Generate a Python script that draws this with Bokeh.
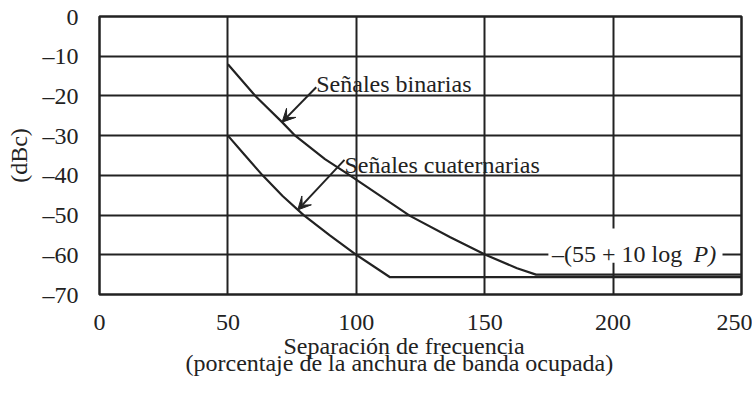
from bokeh.plotting import figure
from bokeh.models import FixedTicker, Range1d, Arrow, VeeHead, Title, ColumnDataSource
from bokeh.core.properties import value
from bokeh.embed import file_html
from bokeh.resources import INLINE

# ---- data ----
x_ticks = [0, 50, 100, 150, 200, 250]
x_labels = ["0", "50", "100", "150", "200", "250"]
y_ticks = [-70, -60, -50, -40, -30, -20, -10, 0]
y_labels = ["–70", "–60", "–50", "–40", "–30", "–20", "–10", "0"]

bin_x = [50, 60.8, 71.1, 76.2, 87.8, 97.5, 120.9, 136.6, 150.3, 162.6, 170, 250]
bin_y = [-12.0, -20.1, -26.6, -30.0, -35.9, -40.0, -50.2, -55.6, -60.0, -63.4, -65.0, -65.0]
quat_x = [50, 56.3, 63.5, 71.3, 79.5, 89.7, 100, 113, 250]
quat_y = [-30, -34.7, -40, -45.2, -50, -55.1, -60, -65.6, -65.6]

ann_text = ["Señales binarias", "Señales cuaternarias"]
ann_x = [84.4, 95.4]
ann_y = [-17.0, -37.3]
arrow_x0 = [84.4, 95.4]
arrow_y0 = [-17.8, -36.1]
arrow_x1 = [71.1, 77.2]
arrow_y1 = [-26.6, -48.7]

box_left, box_right, box_bottom, box_top = [174.8], [242.6], [-62.0], [-53.4]
formula_x, formula_y = [176.2], [-59.8]
formula_text = ["–(55 + 10 log"]
p_x, p_y, p_text = [231.3], [-59.8], ["P)"]

x_title = ["Separación de frecuencia", "(porcentaje de la anchura de banda ocupada)"]
y_title = "(dBc)"

FONT = "Liberation Serif"
FS = "24px"
DARK = "#222222"

p = figure(width=752, height=401, x_range=Range1d(0, 250), y_range=Range1d(-70, 0),
           output_backend="svg", toolbar_location=None,
           min_border_left=99, min_border_right=11, min_border_top=16, min_border_bottom=107)

p.background_fill_color = "white"
p.border_fill_color = "white"
p.outline_line_color = DARK
p.outline_line_width = 2.5
p.outline_line_alpha = 1.0

p.xaxis.ticker = FixedTicker(ticks=x_ticks)
p.yaxis.ticker = FixedTicker(ticks=y_ticks)
p.xaxis.major_label_overrides = dict(zip(x_ticks, x_labels))
p.yaxis.major_label_overrides = dict(zip(y_ticks, y_labels))
for ax in (p.xaxis[0], p.yaxis[0]):
    ax.axis_line_color = None
    ax.major_tick_line_color = None
    ax.minor_tick_line_color = None
    ax.major_tick_in = 0
    ax.major_tick_out = 0
    ax.major_label_text_font = FONT
    ax.major_label_text_font_size = FS
    ax.major_label_text_color = DARK
p.xaxis.major_label_standoff = 20
p.yaxis.major_label_standoff = 21
p.yaxis.axis_label = y_title
p.yaxis.axis_label_text_font = FONT
p.yaxis.axis_label_text_font_size = FS
p.yaxis.axis_label_text_font_style = "normal"
p.yaxis.axis_label_text_color = DARK
p.yaxis.axis_label_standoff = 8

p.grid.grid_line_color = DARK
p.grid.grid_line_width = 2
p.grid.grid_line_alpha = 1.0

# white box behind formula
p.quad(left=box_left, right=box_right, bottom=box_bottom, top=box_top,
       fill_color="white", line_color=None)

p.line(bin_x, bin_y, line_color=DARK, line_width=2.2, line_join="round")
p.line(quat_x, quat_y, line_color=DARK, line_width=2.2, line_join="round")

for i in range(len(arrow_x0)):
    p.add_layout(Arrow(end=VeeHead(size=13, fill_color=DARK, line_color=DARK, line_width=1),
                       x_start=arrow_x0[i], y_start=arrow_y0[i],
                       x_end=arrow_x1[i], y_end=arrow_y1[i],
                       line_color=DARK, line_width=2))

src = ColumnDataSource(dict(x=ann_x, y=ann_y, t=ann_text))
p.text(x="x", y="y", text="t", source=src, text_font=value(FONT), text_font_size=FS,
       text_color=DARK, text_baseline="alphabetic", text_align="left")
p.text(x=formula_x, y=formula_y, text=formula_text, text_font=value(FONT), text_font_size=FS,
       text_color=DARK, text_baseline="alphabetic", text_align="left")
p.text(x=p_x, y=p_y, text=p_text, text_font=value(FONT), text_font_size=FS,
       text_font_style="italic", text_color=DARK, text_baseline="alphabetic", text_align="left")

# x axis title: two tight lines, each its own title below the axis
for txt, off, so in zip(x_title, [184, 86], [-4, -17]):
    p.add_layout(Title(text=txt, align="left", offset=off,
                       text_font=FONT, text_font_size=FS, text_font_style="normal",
                       text_color=DARK, standoff=so), "below")

open("out.html", "w").write(file_html(p, INLINE))
